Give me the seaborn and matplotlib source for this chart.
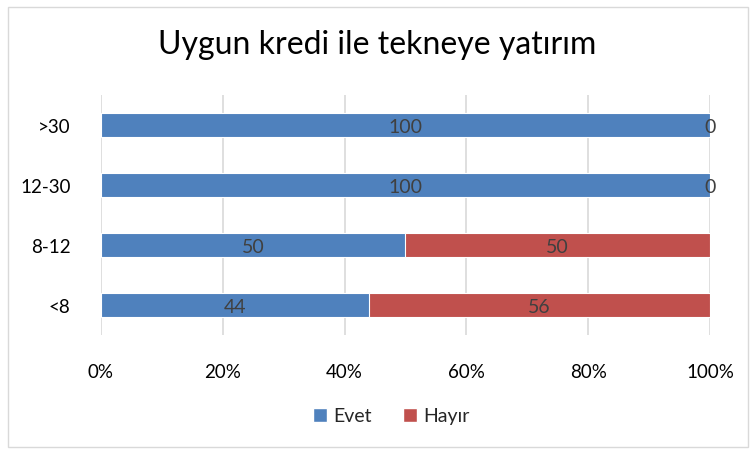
import matplotlib
matplotlib.use("Agg")
import matplotlib.pyplot as plt
import seaborn as sns
import pandas as pd
from matplotlib.patches import Rectangle, Patch

categories = [">30", "12-30", "8-12", "<8"]
evet = [100, 100, 50, 44]
hayir = [0, 0, 50, 56]
x_ticks = [0, 20, 40, 60, 80, 100]
x_tick_labels = ["0%", "20%", "40%", "60%", "80%", "100%"]

BLUE = "#4f81bd"
RED = "#c0504d"
TEXT = "#404040"

sns.set_style("white")
plt.rcParams["font.family"] = ["Lato", "DejaVu Sans"]

df = pd.DataFrame({"cat": categories, "evet": evet, "hayir": hayir})
df["total"] = df["evet"] + df["hayir"]

fig = plt.figure(figsize=(7.55, 4.56), dpi=100)
ax = fig.add_axes([101 / 755, 1 - 336 / 456, 609 / 755, 240 / 456])

sns.barplot(data=df, x="total", y="cat", orient="h", color=RED, width=0.4,
            saturation=1, edgecolor="white", linewidth=0.8, ax=ax, zorder=3)
sns.barplot(data=df, x="evet", y="cat", orient="h", color=BLUE, width=0.4,
            saturation=1, edgecolor="white", linewidth=0.8, ax=ax, zorder=4)

for i, (e, h) in enumerate(zip(evet, hayir)):
    ax.text(e / 2, i + 0.02, f"{e}", ha="center", va="center", color=TEXT,
            fontsize=14, zorder=5)
    ax.text(e + h / 2, i + 0.02, f"{h}", ha="center", va="center", color=TEXT,
            fontsize=14, zorder=5)

ax.set_xlim(0, 100)
ax.set_ylim(3.5, -0.5)
ax.set_xticks(x_ticks)
ax.set_xticklabels(x_tick_labels, fontsize=13.5, color="black")
ax.tick_params(axis="y", labelsize=13.5, colors="black", length=0, pad=22)
ax.tick_params(axis="x", length=0, pad=20)
for lab in ax.get_yticklabels():
    lab.set_color("black")
ax.set_xlabel("")
ax.set_ylabel("")
ax.grid(axis="x", color="#d9d9d9", linewidth=1.2, zorder=0)
ax.set_axisbelow(True)
for s in ax.spines.values():
    s.set_visible(False)

fig.text(0.5, 1 - 45 / 456, "Uygun kredi ile tekneye yatırım", ha="center",
         va="center", fontsize=23, color="black")

handles = [Patch(facecolor=BLUE, label="Evet"), Patch(facecolor=RED, label="Hayır")]
fig.legend(handles=handles, loc="center", bbox_to_anchor=(0.518, 1 - 417 / 456),
           ncol=2, frameon=False, fontsize=14, handlelength=0.75, handleheight=0.75,
           handletextpad=0.3, columnspacing=1.6)

fig.patches.append(Rectangle((8 / 755, 8 / 456), 740 / 755, 440 / 456,
                             transform=fig.transFigure, fill=False,
                             edgecolor="#d9d9d9", linewidth=1))

fig.savefig("out.png", dpi=100)
